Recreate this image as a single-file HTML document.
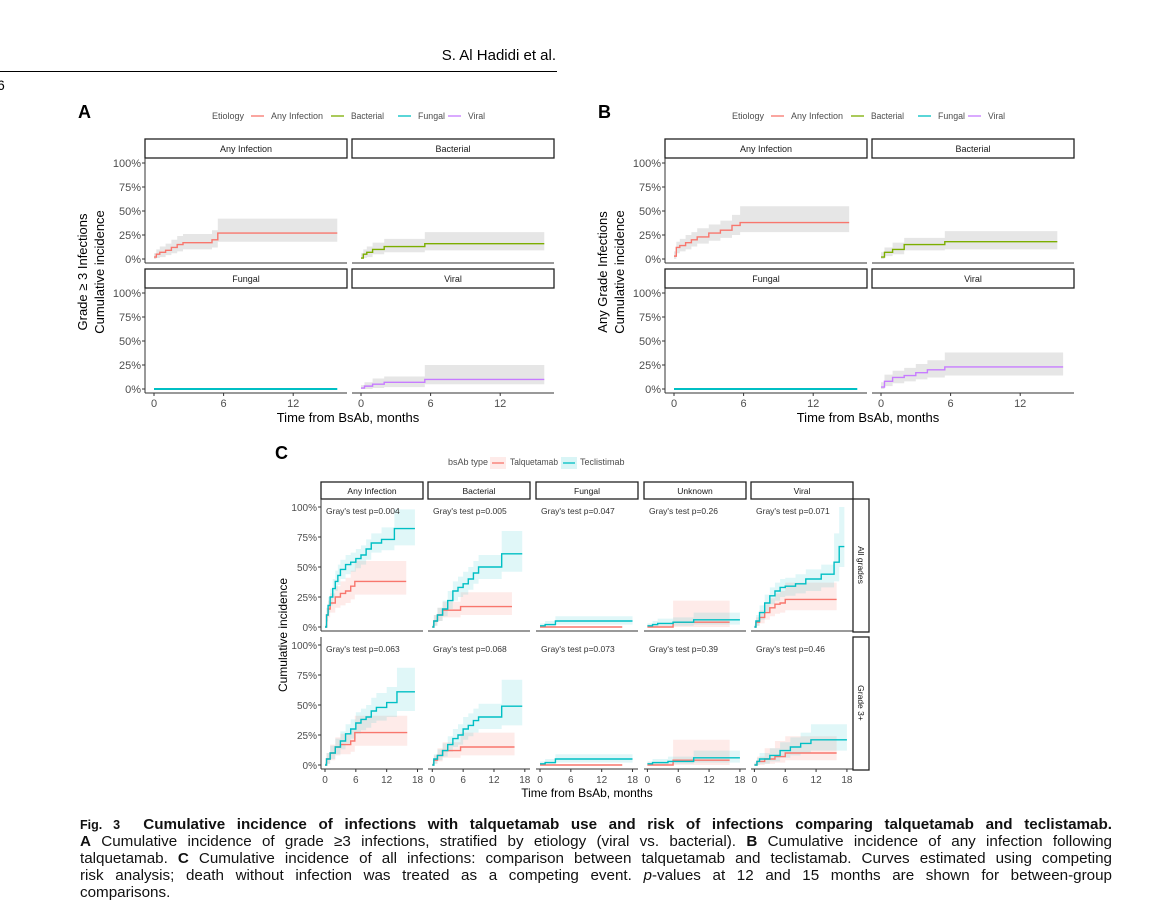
<!DOCTYPE html>
<html><head><meta charset="utf-8"><style>
body{margin:0;background:#fff;width:1152px;height:907px;position:relative;overflow:hidden;font-family:"Liberation Sans",sans-serif}
.cap{position:absolute;left:80px;width:1032px;font-size:15.2px;line-height:17px;color:#111;text-align:justify;text-align-last:justify;white-space:nowrap}
</style></head><body>
<div style="position:absolute;left:380px;width:176px;top:47px;font-size:15px;text-align:right">S. Al Hadidi et al.</div>
<div style="position:absolute;left:0;top:71px;width:557px;height:1px;background:#000"></div>
<div style="position:absolute;left:-3px;top:77px;font-size:14px">6</div>
<svg id="fig" width="1152" height="907" style="position:absolute;left:0;top:0" xmlns="http://www.w3.org/2000/svg"></svg>
<div class="cap" style="top:816px;font-weight:bold"><span style="font-size:12.5px">Fig. 3</span>&nbsp; Cumulative incidence of infections with talquetamab use and risk of infections comparing talquetamab and teclistamab.</div>
<div class="cap" style="top:833px"><b>A</b> Cumulative incidence of grade ≥3 infections, stratified by etiology (viral vs. bacterial). <b>B</b> Cumulative incidence of any infection following</div>
<div class="cap" style="top:850px">talquetamab. <b>C</b> Cumulative incidence of all infections: comparison between talquetamab and teclistamab. Curves estimated using competing</div>
<div class="cap" style="top:867px">risk analysis; death without infection was treated as a competing event. <i>p</i>-values at 12 and 15 months are shown for between-group</div>
<div class="cap" style="top:884px;text-align-last:left">comparisons.</div>
<script>
// ---------- Panel A data (grade >=3) ----------
const aAnyT=[0,0.2,0.5,1,1.5,2,2.5,5,5.5], aAnyV=[0.02,0.05,0.07,0.09,0.12,0.15,0.17,0.2,0.27], aAnyLo=[0,0.01,0.02,0.04,0.06,0.08,0.1,0.12,0.18], aAnyHi=[0.06,0.1,0.13,0.16,0.2,0.24,0.26,0.3,0.42];
const aBacT=[0,0.2,0.5,1,2,5.5], aBacV=[0.01,0.05,0.07,0.1,0.13,0.16], aBacLo=[0,0.01,0.02,0.05,0.07,0.09], aBacHi=[0.06,0.1,0.13,0.17,0.21,0.28];
const aFunT=[0], aFunV=[0], aFunLo=[0], aFunHi=[0];
const aVirT=[0,0.3,1,2,5.5], aVirV=[0.01,0.03,0.05,0.07,0.1], aVirLo=[0,0,0.01,0.02,0.05], aVirHi=[0.04,0.07,0.11,0.13,0.25];
const aEnd=[15.8,15.8,15.8,15.8];
// ---------- Panel B data (any grade) ----------
const bAnyT=[0,0.2,0.5,1,1.5,2,3,4,5,5.7], bAnyV=[0.03,0.12,0.14,0.17,0.2,0.23,0.27,0.3,0.35,0.38], bAnyLo=[0,0.06,0.08,0.1,0.13,0.16,0.19,0.22,0.25,0.28], bAnyHi=[0.08,0.18,0.21,0.25,0.28,0.32,0.36,0.4,0.46,0.55];
const bBacT=[0,0.3,1,2,5.5], bBacV=[0.02,0.07,0.1,0.15,0.18], bBacLo=[0,0.03,0.05,0.09,0.1], bBacHi=[0.07,0.12,0.17,0.22,0.29];
const bFunT=[0], bFunV=[0], bFunLo=[0], bFunHi=[0];
const bVirT=[0,0.3,1,2,3,4,5.5], bVirV=[0.02,0.08,0.12,0.14,0.17,0.2,0.23], bVirLo=[0,0.03,0.06,0.08,0.1,0.12,0.14], bVirHi=[0.07,0.15,0.19,0.22,0.26,0.3,0.38];
const bEnd=[15.1,15.2,15.8,15.7];
// ---------- Panel C data ----------
const cFacets=["Any Infection","Bacterial","Fungal","Unknown","Viral"];
const cRows=["All grades","Grade 3+"];
const cPvals=[["0.004","0.005","0.047","0.26","0.071"],["0.063","0.068","0.073","0.39","0.46"]];
// teclistamab, all grades
const tecAllT=[[0,0.3,0.6,1,1.5,2,2.5,3,4,5,6,7,8,9,11,13.5],[0,0.3,1,2,3,4,5,6,7,8,9,13.5],[0,1,3],[0,1,2,5,9],[0,0.3,1,2,3,4,5,6,8,10,13,15.5,16.5]];
const tecAllV=[[0,0.1,0.18,0.25,0.32,0.38,0.43,0.48,0.52,0.54,0.57,0.6,0.65,0.7,0.73,0.82],[0,0.05,0.1,0.15,0.22,0.3,0.33,0.36,0.4,0.45,0.5,0.61],[0.01,0.02,0.05],[0.01,0.02,0.03,0.04,0.06],[0,0.05,0.12,0.2,0.26,0.3,0.33,0.34,0.36,0.4,0.44,0.54,0.67]];
const tecAllLo=[[0,0.05,0.12,0.18,0.24,0.3,0.35,0.4,0.44,0.46,0.49,0.52,0.56,0.62,0.64,0.68],[0,0.01,0.05,0.09,0.15,0.22,0.25,0.27,0.31,0.36,0.4,0.46],[0,0,0.02],[0,0,0.01,0.01,0.02],[0,0.01,0.06,0.13,0.19,0.22,0.25,0.26,0.28,0.3,0.33,0.38,0.5]];
const tecAllHi=[[0.02,0.16,0.25,0.32,0.4,0.47,0.52,0.56,0.6,0.62,0.65,0.68,0.73,0.78,0.83,0.98],[0.02,0.1,0.16,0.22,0.3,0.38,0.42,0.46,0.5,0.55,0.6,0.8],[0.03,0.05,0.09],[0.03,0.05,0.07,0.08,0.12],[0.02,0.1,0.18,0.27,0.33,0.37,0.4,0.41,0.44,0.48,0.52,0.78,1.0]];
const tecAllEnd=[17.5,17.5,18,18,17.5];
// talquetamab, all grades
const talAllT=[[0,0.3,0.6,1,2,3,4,5,5.8],[0,0.3,1,2,5.5],[0],[0,5],[0,0.3,1,2,3,4,5,6]];
const talAllV=[[0,0.1,0.15,0.2,0.25,0.28,0.3,0.34,0.38],[0,0.05,0.1,0.14,0.17],[0],[0,0.04],[0,0.04,0.08,0.12,0.16,0.19,0.2,0.23]];
const talAllLo=[[0,0.04,0.08,0.12,0.16,0.18,0.2,0.23,0.27],[0,0.01,0.05,0.08,0.1],[0],[0,0],[0,0.01,0.03,0.06,0.09,0.11,0.12,0.14]];
const talAllHi=[[0.02,0.16,0.22,0.28,0.34,0.38,0.41,0.47,0.55],[0.02,0.1,0.16,0.21,0.29],[0],[0.02,0.22],[0.02,0.08,0.14,0.19,0.24,0.28,0.3,0.37]];
const talAllEnd=[15.8,15.5,16,16,16];
// teclistamab, grade 3+
const tec3T=[[0,0.3,1,2,3,4,5,6,7,8,9,10,12,14],[0,0.3,1,2,3,4,5,6,7,8,9,13.5],[0,1,3],[0,1,4,9],[0,0.5,1,3,5,7,9,11]];
const tec3V=[[0,0.05,0.1,0.15,0.2,0.26,0.3,0.35,0.38,0.4,0.45,0.48,0.52,0.61],[0,0.05,0.08,0.12,0.17,0.22,0.25,0.3,0.33,0.37,0.4,0.49],[0.01,0.02,0.05],[0.01,0.02,0.03,0.06],[0,0.03,0.05,0.08,0.12,0.15,0.18,0.21]];
const tec3Lo=[[0,0.01,0.05,0.09,0.13,0.18,0.22,0.26,0.29,0.31,0.35,0.37,0.4,0.45],[0,0.01,0.04,0.07,0.11,0.15,0.17,0.21,0.24,0.27,0.3,0.33],[0,0,0.02],[0,0,0.01,0.02],[0,0,0.01,0.03,0.06,0.08,0.1,0.12]];
const tec3Hi=[[0.02,0.1,0.16,0.22,0.28,0.34,0.38,0.44,0.47,0.5,0.56,0.6,0.65,0.81],[0.02,0.09,0.13,0.18,0.24,0.3,0.34,0.4,0.43,0.47,0.51,0.71],[0.03,0.05,0.09],[0.03,0.05,0.07,0.12],[0.02,0.06,0.1,0.14,0.19,0.23,0.27,0.34]];
const tec3End=[17.5,17.5,18,18,18];
// talquetamab, grade 3+
const tal3T=[[0,0.3,1,2,3,5,5.8],[0,0.3,1,2,5.5],[0],[0,5],[0,0.5,2,4,6]];
const tal3V=[[0,0.05,0.1,0.15,0.17,0.2,0.27],[0,0.04,0.08,0.12,0.15],[0],[0,0.04],[0,0.03,0.05,0.07,0.1]];
const tal3Lo=[[0,0.01,0.04,0.08,0.09,0.11,0.16],[0,0.01,0.03,0.06,0.08],[0],[0,0],[0,0,0.01,0.02,0.04]];
const tal3Hi=[[0.02,0.1,0.17,0.23,0.26,0.3,0.41],[0.02,0.08,0.14,0.19,0.27],[0],[0.02,0.21],[0.02,0.07,0.14,0.2,0.24]];
const tal3End=[16,16,16,16,16];

const NS="http://www.w3.org/2000/svg";
const svg=document.getElementById("fig");
function mk(tag,attrs,parent){const e=document.createElementNS(NS,tag);for(const k in attrs)e.setAttribute(k,attrs[k]);(parent||svg).appendChild(e);return e;}
function txt(s,x,y,size,attrs){const e=mk("text",Object.assign({x:x,y:y,"font-size":size,"font-family":"Liberation Sans, sans-serif",fill:"#4d4d4d"},attrs||{}));e.textContent=s;return e;}
function stepD(T,V,end,xs,ys){let d="M"+xs(T[0])+","+ys(V[0]);for(let i=1;i<T.length;i++){d+="H"+xs(T[i])+"V"+ys(V[i]);}d+="H"+xs(end);return d;}
function bandD(T,Lo,Hi,end,xs,ys){let up="M"+xs(T[0])+","+ys(Hi[0]);for(let i=1;i<T.length;i++)up+="H"+xs(T[i])+"V"+ys(Hi[i]);up+="H"+xs(end);let dn="V"+ys(Lo[Lo.length-1]);for(let i=T.length-1;i>=0;i--){dn+="H"+xs(T[i]);if(i>0)dn+="V"+ys(Lo[i-1]);}return up+dn+"Z";}

// ---------- Panels A and B ----------
function etioPanel(off,letter,titles,ser,ends,yTitle1){
  txt(letter,78+off,118,18,{fill:"#000","font-weight":"bold"});
  const cols=["#F8766D","#7CAE00","#00BFC4","#C77CFF"], names=["Any Infection","Bacterial","Fungal","Viral"];
  const lg=txt("Etiology",212+off,119,9);
  
  const kx=[251,331,398,448];
  for(let i=0;i<4;i++){
    const l=mk("line",{x1:kx[i]+off,x2:kx[i]+13+off,y1:116,y2:116,stroke:cols[i],"stroke-width":1.3});
    
    
    const t=txt(names[i],kx[i]+20+off,119,9,{textLength:[52,33,27,17][i],lengthAdjust:"spacingAndGlyphs"});
    
    
  }
  const px=[145,352], pr=[347,554], y0=[259,389], rowTop=[139,269];
  for(let p=0;p<4;p++){
    const r=Math.floor(p/2), c=p%2, L=px[c]+off, R=pr[c]+off;
    const x0=[154,361][c]+off;
    const xs=t=>x0+t*11.6, ys=v=>y0[r]-v*96;
    const st=mk("rect",{x:L,y:rowTop[r],width:R-L,height:19,fill:"#fff",stroke:"#222","stroke-width":1.3});
    
    
    txt(titles[p],(L+R)/2,rowTop[r]+13,9,{"text-anchor":"middle",fill:"#1a1a1a"});
    const s=ser[p];
    const b=mk("path",{d:bandD(s[0],s[2],s[3],ends[p],xs,ys),fill:"#e6e6e6"});
    
    
    const ln=mk("path",{d:stepD(s[0],s[1],ends[p],xs,ys),fill:"none",stroke:cols[p],"stroke-width":p==2?2:1.4});
    
    
    const axb=y0[r]+4;
    mk("line",{x1:L,x2:R,y1:axb,y2:axb,stroke:"#333","stroke-width":1});
    if(c==0){
      mk("line",{x1:L,x2:L,y1:rowTop[r]+19,y2:axb,stroke:"#333","stroke-width":1});
      [0,25,50,75,100].forEach(v=>{mk("line",{x1:L-3,x2:L,y1:ys(v/100),y2:ys(v/100),stroke:"#333"});txt(v+"%",L-4,ys(v/100)+4,11,{"text-anchor":"end"});});
    }
    if(r==1){[0,6,12].forEach(t=>{mk("line",{x1:xs(t),x2:xs(t),y1:axb,y2:axb+3,stroke:"#333"});txt(String(t),xs(t),407,11,{"text-anchor":"middle"});});}
  }
  txt("Time from BsAb, months",348+off,422,13,{"text-anchor":"middle",fill:"#000"});
  txt(yTitle1,0,0,13,{"text-anchor":"middle",fill:"#000",transform:"translate("+(87+off)+",272) rotate(-90)"});
  txt("Cumulative incidence",0,0,13,{"text-anchor":"middle",fill:"#000",transform:"translate("+(104+off)+",272) rotate(-90)"});
}
etioPanel(0,"A",["Any Infection","Bacterial","Fungal","Viral"],[[aAnyT,aAnyV,aAnyLo,aAnyHi],[aBacT,aBacV,aBacLo,aBacHi],[aFunT,aFunV,aFunLo,aFunHi],[aVirT,aVirV,aVirLo,aVirHi]],aEnd,"Grade ≥ 3 Infections");
etioPanel(520,"B",["Any Infection","Bacterial","Fungal","Viral"],[[bAnyT,bAnyV,bAnyLo,bAnyHi],[bBacT,bBacV,bBacLo,bBacHi],[bFunT,bFunV,bFunLo,bFunHi],[bVirT,bVirV,bVirLo,bVirHi]],bEnd,"Any Grade Infections");

// ---------- Panel C ----------
txt("C",275,459,18,{fill:"#000","font-weight":"bold"});
txt("bsAb type",448,465,9);
mk("rect",{x:490,y:457,width:16,height:12,fill:"rgba(248,118,109,0.15)"});
mk("line",{x1:492,x2:504,y1:463,y2:463,stroke:"#F8766D","stroke-width":1.3});
const lt=txt("Talquetamab",510,465,9,{textLength:48,lengthAdjust:"spacingAndGlyphs"});

mk("rect",{x:561,y:457,width:16,height:12,fill:"rgba(0,191,196,0.15)"});
mk("line",{x1:563,x2:575,y1:463,y2:463,stroke:"#00BFC4","stroke-width":1.3});
const lc=txt("Teclistimab",580,465,9);

const cOrig=[325,432.3,540,647.4,754.4], cStripL=[321,428,536,644,751], cY0=[627,765], cTop=[499,637];
for(let f=0;f<5;f++){
  const st=mk("rect",{x:cStripL[f],y:482,width:102,height:17,fill:"#fff",stroke:"#222","stroke-width":1.3});
  
  
  txt(cFacets[f],cStripL[f]+51,494,8.5,{"text-anchor":"middle",fill:"#1a1a1a"});
  for(let r=0;r<2;r++){
    const xs=t=>cOrig[f]+t*5.14, ys=v=>cY0[r]-v*120;
    const TT=r?tec3T:tecAllT, TV=r?tec3V:tecAllV, TL=r?tec3Lo:tecAllLo, TH=r?tec3Hi:tecAllHi, TE=r?tec3End:tecAllEnd;
    const QT=r?tal3T:talAllT, QV=r?tal3V:talAllV, QL=r?tal3Lo:talAllLo, QH=r?tal3Hi:talAllHi, QE=r?tal3End:talAllEnd;
    const b1=mk("path",{d:bandD(QT[f],QL[f],QH[f],QE[f],xs,ys),fill:"rgba(248,118,109,0.15)"});
    
    const b2=mk("path",{d:bandD(TT[f],TL[f],TH[f],TE[f],xs,ys),fill:"rgba(0,191,196,0.12)"});
    
    const l1=mk("path",{d:stepD(QT[f],QV[f],QE[f],xs,ys),fill:"none",stroke:"#F8766D","stroke-width":1.4});
    
    
    const l2=mk("path",{d:stepD(TT[f],TV[f],TE[f],xs,ys),fill:"none",stroke:"#00BFC4","stroke-width":1.4});
    
    
    const pv=txt("Gray's test p="+cPvals[r][f],cStripL[f]+5,cTop[r]+15,8.5,{fill:"#333"});
    
    const axb=cY0[r]+4;
    mk("line",{x1:cStripL[f],x2:cStripL[f]+102,y1:axb,y2:axb,stroke:"#333"});
    if(f==0){
      mk("line",{x1:321,x2:321,y1:cTop[r],y2:axb,stroke:"#333"});
      [0,25,50,75,100].forEach(v=>{mk("line",{x1:318,x2:321,y1:ys(v/100),y2:ys(v/100),stroke:"#333"});txt(v+"%",317,ys(v/100)+4,10,{"text-anchor":"end"});});
    }
    if(r==1){[0,6,12,18].forEach(t=>{mk("line",{x1:xs(t),x2:xs(t),y1:axb,y2:axb+3,stroke:"#333"});txt(String(t),xs(t),783,10,{"text-anchor":"middle"});});}
  }
}
for(let r=0;r<2;r++){
  const s=mk("rect",{x:853,y:r?637:499,width:16,height:133,fill:"#fff",stroke:"#222","stroke-width":1.3});
  
  
  txt(cRows[r],0,0,8.5,{"text-anchor":"middle",fill:"#1a1a1a",transform:"translate(858,"+(r?703:565)+") rotate(90)"});
}
txt("Time from BsAb, months",587,797,12,{"text-anchor":"middle",fill:"#000"});
txt("Cumulative incidence",0,0,12,{"text-anchor":"middle",fill:"#000",transform:"translate(287,635) rotate(-90)"});
</script>
</body></html>
